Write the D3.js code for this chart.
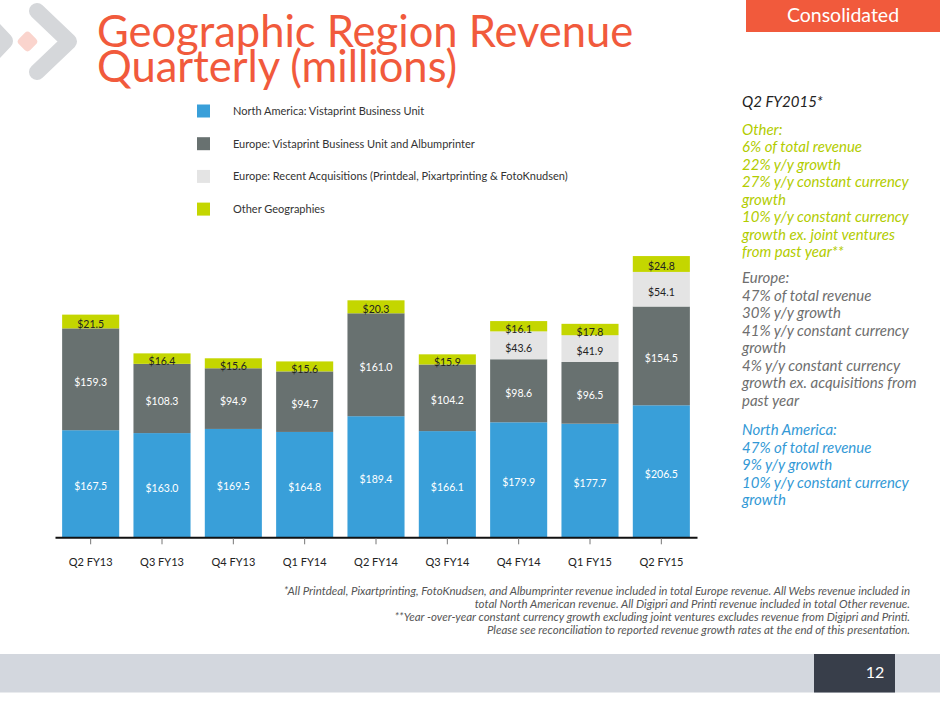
<!DOCTYPE html>
<html>
<head>
<meta charset="utf-8">
<script src="https://cdn.jsdelivr.net/npm/d3@7"></script>
<style>
  body { margin: 0; background: #fff; }
  svg { display: block; font-family: Lato, "Open Sans", sans-serif; }
</style>
</head>
<body>
<div class="chart"></div>
<script>
"use strict";

// values (millions)
const quarters = ["Q2 FY13", "Q3 FY13", "Q4 FY13", "Q1 FY14", "Q2 FY14", "Q3 FY14", "Q4 FY14", "Q1 FY15", "Q2 FY15"];
const northAmerica = [167.5, 163.0, 169.5, 164.8, 189.4, 166.1, 179.9, 177.7, 206.5];
const europeCore = [159.3, 108.3, 94.9, 94.7, 161.0, 104.2, 98.6, 96.5, 154.5];
const europeAcq = [0, 0, 0, 0, 0, 0, 43.6, 41.9, 54.1];
const otherGeo = [21.5, 16.4, 15.6, 15.6, 20.3, 15.9, 16.1, 17.8, 24.8];

const seriesKeys = ["na", "eu", "acq", "other"];
const seriesNames = [
  "North America: Vistaprint Business Unit",
  "Europe: Vistaprint Business Unit and Albumprinter",
  "Europe: Recent Acquisitions (Printdeal, Pixartprinting & FotoKnudsen)",
  "Other Geographies"
];
const seriesColors = ["#399fd9", "#687170", "#e4e4e4", "#c4d600"];
const labelColors = ["#fff", "#fff", "#222", "#222"];

const notesOther = ["Other:", "6% of total revenue", "22% y/y growth", "27% y/y constant currency", "growth", "10% y/y constant currency", "growth ex. joint ventures", "from past year**"];
const notesEurope = ["Europe:", "47% of total revenue", "30% y/y growth", "41% y/y constant currency", "growth", "4% y/y constant currency", "growth ex. acquisitions from", "past year"];
const notesNA = ["North America:", "47% of total revenue", "9% y/y growth", "10% y/y constant currency", "growth"];

const footnotes = [
  "*All Printdeal, Pixartprinting, FotoKnudsen, and Albumprinter revenue included in total Europe revenue. All Webs revenue included in",
  "total North American revenue.  All Digipri and Printi revenue included in total Other revenue.",
  "**Year -over-year constant currency growth excluding joint ventures excludes revenue from Digipri and Printi.",
  "Please see reconciliation to reported revenue growth rates at the end of this presentation."
];

const data = quarters.map((q, i) => ({
  quarter: q,
  na: northAmerica[i],
  eu: europeCore[i],
  acq: europeAcq[i],
  other: otherGeo[i]
}));

const W = 940;
const H = 705;
const accent = "#f15a3c";

const svg = d3
  .select(".chart")
  .append("svg")
  .attr("width", W)
  .attr("height", H);

svg.append("rect").attr("width", W).attr("height", H).attr("fill", "#fff");

// logo fragments, top left
const logo = svg.append("g").attr("fill", "none").attr("stroke-linecap", "round").attr("stroke-linejoin", "round");
logo
  .append("path")
  .attr("d", "M-22,12 L5,41 L-22,70")
  .attr("stroke", "#d5d7da")
  .attr("stroke-width", 16);
logo
  .append("path")
  .attr("d", "M37,11 L69,41.5 L37,72")
  .attr("stroke", "#d5d7da")
  .attr("stroke-width", 16);
logo
  .append("rect")
  .attr("x", -8)
  .attr("y", -8)
  .attr("width", 16)
  .attr("height", 16)
  .attr("rx", 4)
  .attr("transform", "translate(27.5,41.5) rotate(45)")
  .attr("fill", "#fad4cd");

// title (two tight lines, as on the slide)
svg
  .append("g")
  .attr("fill", accent)
  .attr("font-size", 43.5)
  .selectAll("text")
  .data(["Geographic Region Revenue", "Quarterly (millions)"])
  .join("text")
  .attr("x", 97)
  .attr("y", (d, i) => 47 + i * 35)
  .text((d) => d);

// "Consolidated" tab
svg.append("rect").attr("x", 746).attr("y", 0).attr("width", 194).attr("height", 32).attr("fill", accent);
svg
  .append("text")
  .attr("x", 843)
  .attr("y", 21.5)
  .attr("text-anchor", "middle")
  .attr("fill", "#fff")
  .attr("font-size", 19.5)
  .text("Consolidated");

// legend
const legend = svg
  .append("g")
  .selectAll("g")
  .data(seriesNames)
  .join("g")
  .attr("transform", (d, i) => `translate(197,${104.5 + i * 32.7})`);

legend
  .append("rect")
  .attr("width", 13)
  .attr("height", 13)
  .attr("fill", (d, i) => seriesColors[i]);

legend
  .append("text")
  .attr("x", 36)
  .attr("y", 10.5)
  .attr("font-size", 11)
  .attr("fill", "#333")
  .text((d) => d);

// chart
const baseline = 537.3;

const x = d3.scaleBand().domain(quarters).range([55, 697]).paddingInner(0.2).paddingOuter(0.1);

const y = d3.scaleLinear().domain([0, 440]).range([baseline, 256]);

const stacked = d3.stack().keys(seriesKeys)(data);

const layers = svg
  .append("g")
  .selectAll("g")
  .data(stacked)
  .join("g")
  .attr("fill", (d, i) => seriesColors[i]);

layers
  .selectAll("rect")
  .data((d) => d.filter((s) => s[1] - s[0] > 0))
  .join("rect")
  .attr("x", (d) => x(d.data.quarter))
  .attr("y", (d) => y(d[1]))
  .attr("width", x.bandwidth())
  .attr("height", (d) => y(d[0]) - y(d[1]));

// segment labels
stacked.forEach((layer, i) => {
  svg
    .append("g")
    .attr("font-size", 10.5)
    .attr("text-anchor", "middle")
    .attr("fill", labelColors[i])
    .selectAll("text")
    .data(layer.filter((s) => s[1] - s[0] > 0))
    .join("text")
    .attr("x", (d) => x(d.data.quarter) + x.bandwidth() / 2)
    .attr("y", (d) => (y(d[0]) + y(d[1])) / 2 + 6.5)
    .text((d) => "$" + d3.format(".1f")(d[1] - d[0]));
});

// x axis
const xAxis = d3.axisBottom(x).tickSize(7).tickSizeOuter(0);

const xGroup = svg
  .append("g")
  .attr("transform", `translate(0,${baseline})`)
  .call(xAxis);

xGroup.select(".domain").attr("stroke", "#111").attr("stroke-width", 2);
xGroup.selectAll(".tick line").attr("stroke", "#777").attr("y1", 1);
xGroup
  .selectAll(".tick text")
  .attr("y", 29)
  .attr("dy", 0)
  .attr("font-family", "Lato, sans-serif")
  .attr("font-size", 11)
  .attr("fill", "#222");

// right-hand commentary
const notes = svg.append("g").attr("font-size", 15).attr("font-style", "italic");

notes.append("text").attr("x", 742).attr("y", 107).attr("fill", "#222").text("Q2 FY2015*");

function noteBlock(lines, top, color) {
  notes
    .append("g")
    .attr("fill", color)
    .selectAll("text")
    .data(lines)
    .join("text")
    .attr("x", 742)
    .attr("y", (d, i) => top + i * 17.5)
    .text((d) => d);
}

noteBlock(notesOther, 134.5, "#b2cc00");
noteBlock(notesEurope, 283, "#6e6e6e");
noteBlock(notesNA, 435, "#3399d6");

// footnote
svg
  .append("g")
  .attr("font-size", 11.5)
  .attr("font-style", "italic")
  .attr("fill", "#555")
  .attr("text-anchor", "end")
  .selectAll("text")
  .data(footnotes)
  .join("text")
  .attr("x", 910)
  .attr("y", (d, i) => 594.5 + i * 13)
  .text((d) => d);

// footer bar with page number
svg.append("rect").attr("x", 0).attr("y", 654).attr("width", W).attr("height", 38.5).attr("fill", "#d3d7de");
svg.append("rect").attr("x", 814).attr("y", 654).attr("width", 81).attr("height", 38.5).attr("fill", "#383e4a");
svg
  .append("text")
  .attr("x", 875)
  .attr("y", 677.5)
  .attr("text-anchor", "middle")
  .attr("fill", "#fff")
  .attr("font-size", 16)
  .text("12");
</script>
</body>
</html>
